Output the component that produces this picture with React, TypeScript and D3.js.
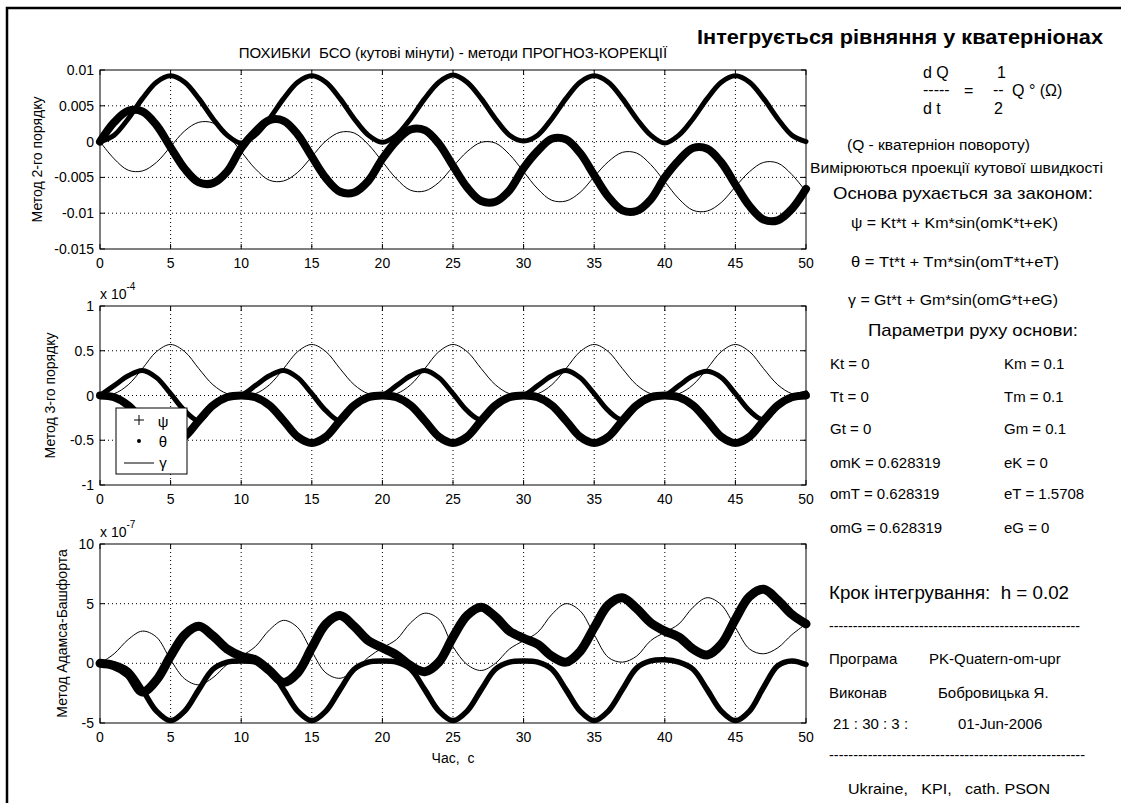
import React from "react"
import * as d3 from "d3"

// sampling instants, seconds
const time = d3.range(0, 51)
const xTicks = [0, 5, 10, 15, 20, 25, 30, 35, 40, 45, 50]

// panel 1 - method of 2nd order
const topTicks = [-0.015, -0.01, -0.005, 0, 0.005, 0.01]
const topTickLabels = ["-0.015", "-0.01", "-0.005", "0", "0.005", "0.01"]
const topPsi = [
  0, 0.0009, 0.0032, 0.006, 0.0083, 0.0092, 0.0083, 0.006, 0.0032, 0.0009,
  -0.0002, 0.0009, 0.0032, 0.006, 0.0083, 0.0092, 0.0083, 0.006, 0.0032, 0.0009,
  -0.0001, 0.0009, 0.0032, 0.006, 0.0083, 0.0093, 0.0083, 0.006, 0.0032, 0.0009,
  0.0001, 0.0009, 0.0032, 0.006, 0.0083, 0.0092, 0.0083, 0.006, 0.0032, 0.0009,
  -0.0002, 0.0009, 0.0032, 0.006, 0.0083, 0.0092, 0.0083, 0.006, 0.0032, 0.0009,
  0,
]
const topTheta = [
  0, 0.0027, 0.0043, 0.0042, 0.0023, -0.0008, -0.0038, -0.0057, -0.0058, -0.0042,
  -0.0009, 0.0014, 0.003, 0.0029, 0.001, -0.0021, -0.0051, -0.007, -0.0071, -0.0055,
  -0.0024, 0.0001, 0.0017, 0.0016, -0.0003, -0.0034, -0.0064, -0.0083, -0.0084, -0.0068,
  -0.0037, -0.0013, 0.0004, 0.0003, -0.0016, -0.0047, -0.0077, -0.0096, -0.0097, -0.0081,
  -0.005, -0.0026, -0.0009, -0.001, -0.0029, -0.006, -0.009, -0.0109, -0.011, -0.0094,
  -0.0066,
]
const topGamma = [
  0, -0.0024, -0.004, -0.0041, -0.0029, -0.0007, 0.0015, 0.0027, 0.0026, 0.001,
  -0.0014, -0.0038, -0.0054, -0.0055, -0.0043, -0.0021, 0.0001, 0.0013, 0.0012, -0.0004,
  -0.0028, -0.0052, -0.0068, -0.0069, -0.0057, -0.0035, -0.0014, -0.0001, -0.0002, -0.0018,
  -0.0042, -0.0066, -0.0082, -0.0083, -0.0071, -0.0049, -0.0028, -0.0015, -0.0016, -0.0032,
  -0.0056, -0.008, -0.0096, -0.0097, -0.0085, -0.0063, -0.0042, -0.0029, -0.003, -0.0046,
  -0.007,
]

// panel 2 - method of 3rd order (x 1e-4)
const midTicks = [-1, -0.5, 0, 0.5, 1]
const midTickLabels = ["-1", "-0.5", "0", "0.5", "1"]
const midPsi = [
  0, 0.11, 0.22, 0.28, 0.2, 0.02, -0.17, -0.28, -0.12, -0.02,
  0, 0.11, 0.22, 0.28, 0.2, 0.02, -0.17, -0.28, -0.12, -0.02,
  0, 0.11, 0.22, 0.28, 0.2, 0.02, -0.17, -0.27, -0.12, -0.02,
  0, 0.11, 0.22, 0.28, 0.2, 0.02, -0.17, -0.27, -0.12, -0.02,
  0, 0.11, 0.22, 0.27, 0.2, 0.02, -0.17, -0.27, -0.12, -0.02,
  0.03,
]
const midTheta = [
  0, -0.02, -0.11, -0.28, -0.46, -0.53, -0.46, -0.28, -0.11, -0.02,
  0, -0.02, -0.11, -0.28, -0.46, -0.53, -0.46, -0.28, -0.11, -0.02,
  0, -0.02, -0.11, -0.28, -0.46, -0.53, -0.46, -0.28, -0.11, -0.02,
  0, -0.02, -0.11, -0.28, -0.46, -0.53, -0.46, -0.28, -0.11, -0.02,
  0, -0.02, -0.11, -0.28, -0.46, -0.53, -0.46, -0.28, -0.11, -0.02,
  0,
]
const midGamma = [
  0, 0.02, 0.12, 0.3, 0.49, 0.57, 0.49, 0.3, 0.12, 0.02,
  0, 0.02, 0.12, 0.3, 0.49, 0.57, 0.49, 0.3, 0.12, 0.02,
  0, 0.02, 0.12, 0.3, 0.49, 0.57, 0.49, 0.3, 0.12, 0.02,
  0, 0.02, 0.12, 0.3, 0.49, 0.57, 0.49, 0.3, 0.12, 0.02,
  0, 0.02, 0.12, 0.3, 0.49, 0.57, 0.49, 0.3, 0.12, 0.02,
  0,
]

// panel 3 - Adams-Bashforth (x 1e-7)
const botTicks = [-5, 0, 5, 10]
const botTickLabels = ["-5", "0", "5", "10"]
const botPsi = [
  0, -0.05, -0.6, -2.2, -4.0, -4.8, -4.0, -2.2, -0.5, 0.1,
  0.2, 0.1, -0.5, -2.2, -4.0, -4.8, -4.0, -2.2, -0.5, 0.1,
  0.2, 0.1, -0.5, -2.2, -4.0, -4.8, -4.0, -2.2, -0.5, 0.1,
  0.2, 0.1, -0.5, -2.2, -4.0, -4.8, -4.0, -2.2, -0.4, 0.2,
  0.3, 0.1, -0.5, -2.2, -4.0, -4.8, -4.0, -2.0, -0.2, 0.2,
  -0.1,
]
const botTheta = [
  0, -0.2, -0.9, -2.4, -1.4, 0.6, 2.4, 3.1, 2.3, 1.2,
  0.6, 0.3, -0.6, -1.6, -0.8, 1.3, 3.3, 4.0, 3.1, 1.9,
  1.3, 0.7, -0.2, -0.7, 0.1, 2.2, 4.0, 4.7, 3.9, 2.7,
  2.1, 1.6, 0.6, 0.1, 1.0, 3.0, 4.9, 5.5, 4.6, 3.4,
  2.7, 2.2, 1.2, 0.7, 1.6, 3.7, 5.6, 6.2, 5.3, 4.1,
  3.3,
]
const botGamma = [
  0, 0.8, 2.0, 2.7, 2.2, 0.3, -1.3, -1.8, -1.2, -0.1,
  0.6, 1.4, 2.8, 3.6, 3.0, 1.0, -0.8, -1.25, -0.6, 0.5,
  1.3, 2.0, 3.4, 4.2, 3.7, 1.4, -0.1, -0.6, 0.0, 1.2,
  1.9, 2.6, 4.1, 5.0, 4.4, 2.4, 0.5, 0.1, 0.6, 1.9,
  2.6, 3.3, 4.7, 5.5, 4.9, 3.0, 1.2, 0.8, 1.3, 2.4,
  3.3,
]

const FONT = "'Liberation Sans', Arial, Helvetica, sans-serif"
const AX_L = 100
const AX_R = 806
const AX_H = 179

const x = d3.scaleLinear().domain([0, 50]).range([AX_L, AX_R])

function Panel(props: {
  top: number
  domain: [number, number]
  ticks: number[]
  tickLabels: string[]
  psi: number[]
  theta: number[]
  gamma: number[]
  psiW: number
  thetaW: number
  ylabel: string
  ylabelX: number
  exponent?: string
  children?: React.ReactNode
}) {
  const { top, domain, ticks, tickLabels, psi, theta, gamma } = props
  const y = d3.scaleLinear().domain(domain).range([top + AX_H, top])
  const line = d3
    .line<number>()
    .x((_, i) => x(time[i]))
    .y((d) => y(d))
    .curve(d3.curveCatmullRom.alpha(0.5))
  const bottom = top + AX_H
  const tl = 5
  return (
    <g>
      {xTicks.slice(1, -1).map((t) => (
        <line key={"gx" + t} x1={x(t)} x2={x(t)} y1={top} y2={bottom} stroke="#000" strokeWidth={1} strokeDasharray="1 3" />
      ))}
      {ticks.filter((t) => t !== domain[0] && t !== domain[1]).map((t) => (
        <line key={"gy" + t} x1={AX_L} x2={AX_R} y1={y(t)} y2={y(t)} stroke="#000" strokeWidth={1} strokeDasharray="1 3" />
      ))}
      <path d={line(theta) || ""} fill="none" stroke="#000" strokeWidth={props.thetaW} strokeLinejoin="round" strokeLinecap="round" />
      <path d={line(psi) || ""} fill="none" stroke="#000" strokeWidth={props.psiW} strokeLinejoin="round" strokeLinecap="round" />
      <path d={line(gamma) || ""} fill="none" stroke="#000" strokeWidth={1} />
      <rect x={AX_L} y={top} width={AX_R - AX_L} height={AX_H} fill="none" stroke="#000" strokeWidth={1} />
      {xTicks.map((t) => (
        <g key={"tx" + t}>
          <line x1={x(t)} x2={x(t)} y1={bottom} y2={bottom - tl} stroke="#000" />
          <line x1={x(t)} x2={x(t)} y1={top} y2={top + tl} stroke="#000" />
          <text x={x(t)} y={bottom + 14} textAnchor="middle" dominantBaseline="central" fontSize={14}>
            {t}
          </text>
        </g>
      ))}
      {ticks.map((t, i) => (
        <g key={"ty" + t}>
          <line x1={AX_L} x2={AX_L + tl} y1={y(t)} y2={y(t)} stroke="#000" />
          <line x1={AX_R} x2={AX_R - tl} y1={y(t)} y2={y(t)} stroke="#000" />
          <text x={AX_L - 6} y={y(t)} textAnchor="end" dominantBaseline="central" fontSize={14}>
            {tickLabels[i]}
          </text>
        </g>
      ))}
      <text
        transform={`translate(${props.ylabelX},${top + AX_H / 2}) rotate(-90)`}
        textAnchor="middle"
        dominantBaseline="central"
        fontSize={14}
      >
        {props.ylabel}
      </text>
      {props.exponent && (
        <text x={AX_L} y={top - 12} dominantBaseline="central" fontSize={14}>
          x 10
          <tspan dy={-8} fontSize={10}>
            {props.exponent}
          </tspan>
        </text>
      )}
      {props.children}
    </g>
  )
}

function T(p: { x: number; y: number; s?: number; w?: number; bold?: boolean; children: React.ReactNode }) {
  return (
    <text
      x={p.x}
      y={p.y}
      fontSize={p.s || 15}
      fontWeight={p.bold ? "bold" : "normal"}
      dominantBaseline="central"
      textLength={p.w}
      lengthAdjust={p.w ? "spacingAndGlyphs" : undefined}
      xmlSpace="preserve"
      style={{ whiteSpace: "pre" }}
    >
      {p.children}
    </text>
  )
}

export default function App() {
  const dashes = "-".repeat(53)
  return (
    <svg
      width={1126}
      height={803}
      style={{ position: "absolute", left: 0, top: 0, background: "#fff" }}
      fontFamily={FONT}
      fill="#000"
    >
      <rect x={0} y={0} width={1126} height={803} fill="#fff" />
      <polyline points="7,805 7,8 1121,8" fill="none" stroke="#000" strokeWidth={2.5} />

      <text x={(AX_L + AX_R) / 2} y={52} textAnchor="middle" dominantBaseline="central" fontSize={15} style={{ whiteSpace: "pre" }}>
        ПОХИБКИ  БСО (кутові мінути) - методи ПРОГНОЗ-КОРЕКЦІЇ
      </text>

      <Panel
        top={70}
        domain={[-0.015, 0.01]}
        ticks={topTicks}
        tickLabels={topTickLabels}
        psi={topPsi}
        theta={topTheta}
        gamma={topGamma}
        psiW={5}
        thetaW={8}
        ylabel="Метод 2-го порядку"
        ylabelX={37}
      />
      <Panel
        top={306}
        domain={[-1, 1]}
        ticks={midTicks}
        tickLabels={midTickLabels}
        psi={midPsi}
        theta={midTheta}
        gamma={midGamma}
        psiW={5}
        thetaW={8}
        ylabel="Метод 3-го порядку"
        ylabelX={50}
        exponent="-4"
      >
        <g>
          <rect x={116} y={408} width={71} height={66} fill="#fff" stroke="#000" strokeWidth={1} />
          <line x1={134} x2={144} y1={420} y2={420} stroke="#000" />
          <line x1={139} x2={139} y1={415} y2={425} stroke="#000" />
          <circle cx={139} cy={441} r={2} fill="#000" />
          <line x1={124} x2={154} y1={463} y2={463} stroke="#000" />
          <text x={163} y={421} textAnchor="middle" dominantBaseline="central" fontSize={15}>ψ</text>
          <text x={163} y={441} textAnchor="middle" dominantBaseline="central" fontSize={15}>θ</text>
          <text x={163} y={462} textAnchor="middle" dominantBaseline="central" fontSize={15}>γ</text>
        </g>
      </Panel>
      <Panel
        top={544}
        domain={[-5, 10]}
        ticks={botTicks}
        tickLabels={botTickLabels}
        psi={botPsi}
        theta={botTheta}
        gamma={botGamma}
        psiW={5.5}
        thetaW={9}
        ylabel="Метод Адамса-Башфорта"
        ylabelX={62}
        exponent="-7"
      />
      <text x={(AX_L + AX_R) / 2} y={758} textAnchor="middle" dominantBaseline="central" fontSize={14} style={{ whiteSpace: "pre" }}>
        Час,  с
      </text>

      <T x={697} y={37} s={20} bold w={406}>Інтегрується рівняння у кватерніонах</T>
      <T x={923} y={72} s={16}>d Q</T>
      <T x={923} y={89} s={16}>-----</T>
      <T x={923} y={108} s={16}>d t</T>
      <T x={964} y={90} s={16}>=</T>
      <T x={997} y={72} s={16}>1</T>
      <T x={993} y={89} s={16}>--</T>
      <T x={994} y={108} s={16}>2</T>
      <T x={1012} y={90} s={16}>Q ° (Ω)</T>
      <T x={847} y={145} s={14} w={183}>(Q - кватерніон повороту)</T>
      <T x={810} y={168} s={14} w={293}>Вимірюються проекції кутової швидкості</T>
      <T x={833} y={193} s={17} w={260}>Основа рухається за законом:</T>
      <T x={851} y={223} s={14} w={207}>ψ = Kt*t + Km*sin(omK*t+eK)</T>
      <T x={851} y={262} s={14} w={208}>θ = Tt*t + Tm*sin(omT*t+eT)</T>
      <T x={848} y={300} s={14} w={210}>γ = Gt*t + Gm*sin(omG*t+eG)</T>
      <T x={868} y={330} s={17} w={210}>Параметри руху основи:</T>

      <T x={830} y={363}>Kt = 0</T>
      <T x={1004} y={363}>Km = 0.1</T>
      <T x={830} y={396}>Tt = 0</T>
      <T x={1004} y={396}>Tm = 0.1</T>
      <T x={830} y={428}>Gt = 0</T>
      <T x={1004} y={428}>Gm = 0.1</T>
      <T x={830} y={462}>omK = 0.628319</T>
      <T x={1004} y={462}>eK = 0</T>
      <T x={830} y={493}>omT = 0.628319</T>
      <T x={1004} y={493}>eT = 1.5708</T>
      <T x={830} y={527}>omG = 0.628319</T>
      <T x={1004} y={527}>eG = 0</T>

      <T x={829} y={593} s={18} w={240}>Крок інтегрування:  h = 0.02</T>
      <T x={829} y={626} s={14} w={251}>{dashes}</T>
      <T x={829} y={658}>Програма</T>
      <T x={929} y={658}>PK-Quatern-om-upr</T>
      <T x={829} y={692}>Виконав</T>
      <T x={938} y={692}>Бобровицька Я.</T>
      <T x={833} y={723}>21 : 30 : 3 :</T>
      <T x={958} y={723}>01-Jun-2006</T>
      <T x={829} y={755} s={14} w={256}>{dashes}</T>
      <T x={848} y={788} w={202}>Ukraine,   KPI,   cath. PSON</T>
    </svg>
  )
}
